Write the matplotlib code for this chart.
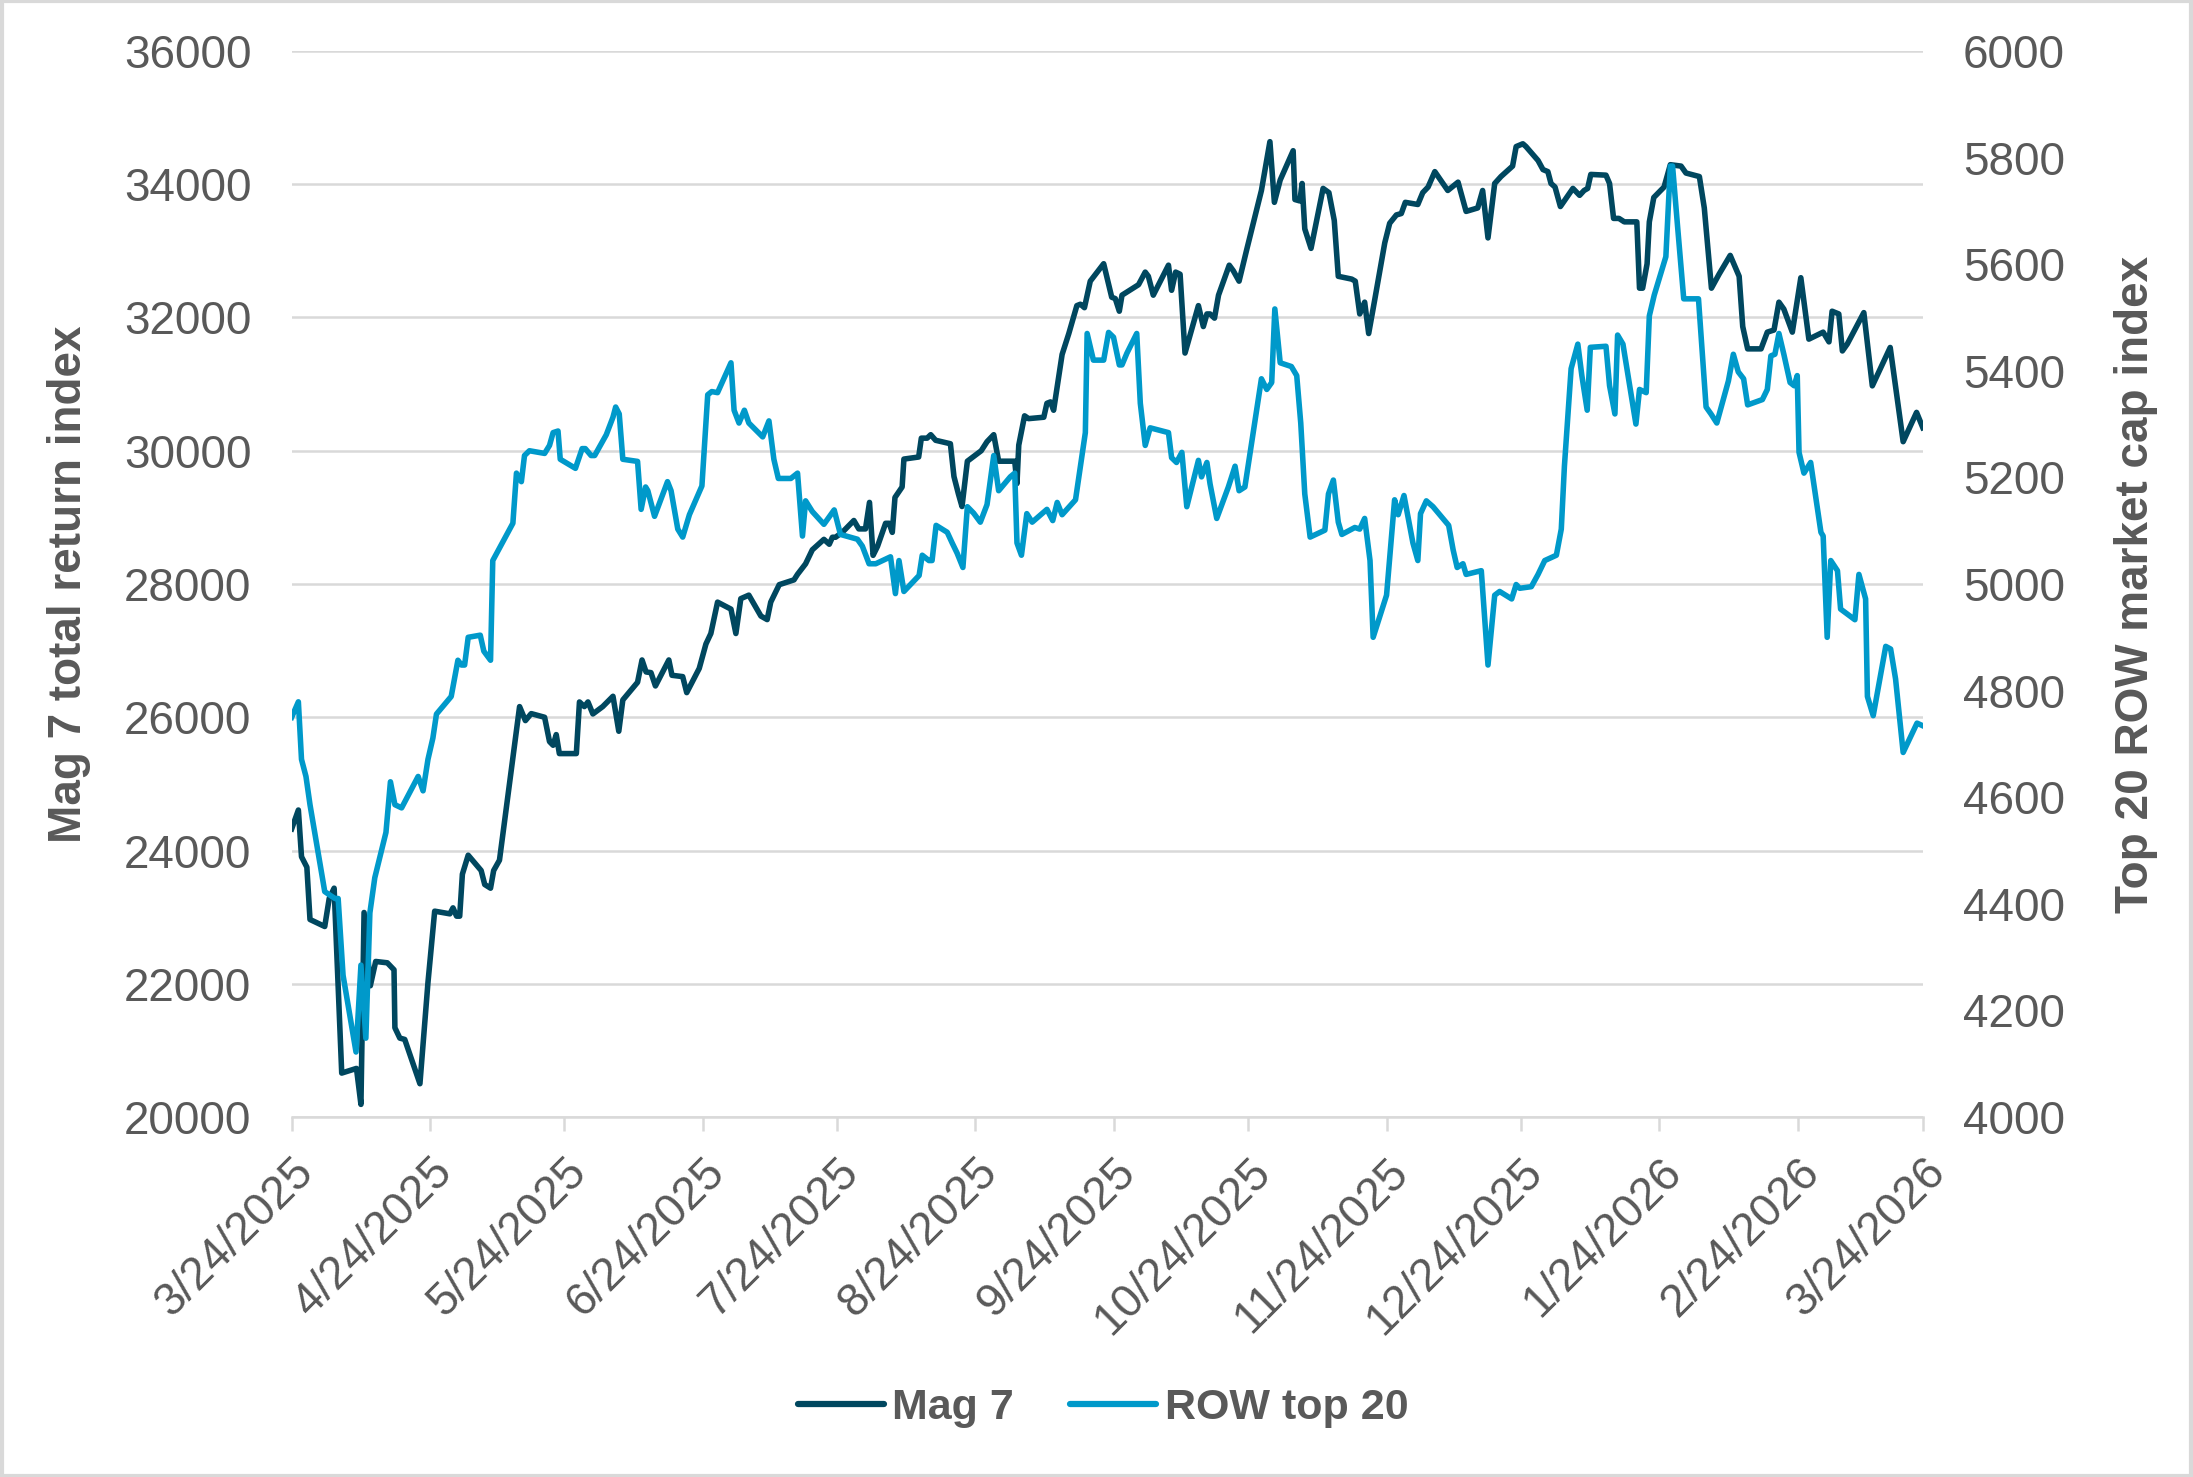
import numpy as np
import pandas as pd
import matplotlib
matplotlib.use("Agg")
import matplotlib.pyplot as plt
from matplotlib.lines import Line2D
from matplotlib.patches import Rectangle

plt.rcParams["font.family"] = ["Liberation Sans", "DejaVu Sans"]

# ---------------------------
# DATA (days since 3/24/2025)
# ---------------------------
START = "2025-03-24"

mag7_days = [
    0, 1.5, 2.2, 3.4, 4.1, 7.4, 8.4, 9.5, 11.2, 14.5, 15.5, 16.2, 17.6, 18.8, 21.4,
    22.9, 23.1, 24.2, 25.3, 28.7, 30.5, 32.0, 35.4, 36.1, 36.9, 37.6, 38.2, 39.5,
    42.4, 43.2, 44.5, 45.2, 46.5, 51.0, 52.3, 53.6, 56.6, 57.7, 58.5, 59.2, 59.9,
    63.7, 64.4, 65.5, 66.3, 67.4, 69.6, 71.9, 73.2, 74.1, 77.4, 78.4, 79.3, 80.4,
    81.4, 84.4, 85.1, 87.5, 88.4,
    91.2, 92.7, 93.8, 95.3, 98.3, 99.4, 100.5, 102.3, 105.0, 106.4, 107.2, 109.1,
    112.4, 113.2, 115.0, 116.5, 119.1, 120.3, 121.0, 121.7, 123.2, 125.8, 126.9,
    128.4, 129.3, 130.1, 131.1, 132.9, 133.7, 134.4, 135.0, 136.6, 137.0, 140.3,
    140.9, 142.2, 143.0, 144.1, 147.4, 148.2, 149.2, 150.0, 151.2, 154.3, 155.6,
    157.1, 158.2, 161.8, 162.3, 162.7, 164.0, 164.9, 168.3, 169.0, 169.8, 170.5,
    172.4, 173.9, 175.7, 176.5, 177.4, 178.7, 181.7, 183.5, 184.3, 185.2,
    185.8, 189.5, 191.0, 191.7, 192.8, 196.2, 196.9, 197.8, 198.8, 199.9, 202.9,
    204.0, 204.8, 205.5, 206.5, 207.4, 209.8, 210.7, 212.0, 213.7, 217.0, 218.9,
    219.9, 221.2, 224.1, 224.5, 225.6, 226.1, 226.7, 228.1, 230.8, 232.1, 233.3,
    234.2, 237.2, 238.0, 239.0, 240.1, 241.0, 242.4, 244.6, 245.7, 247.2, 248.3,
    249.2, 252.0, 253.1, 254.3, 255.8, 258.7, 261.0, 262.8, 265.4, 266.5, 267.7,
    269.2, 270.6, 273.2, 274.0, 275.5, 276.2,
    278.9, 280.0, 281.1, 281.8, 282.7, 283.9, 286.7, 288.2, 289.2, 290.0, 290.7,
    294.1, 294.9, 295.8, 297.0, 298.2, 301.0, 301.6, 302.3, 303.3, 303.8, 304.8,
    307.1, 308.5, 310.9, 312.0, 315.0, 316.1, 317.7, 319.4, 321.9, 323.9, 324.7,
    325.8, 328.8, 330.2, 331.7, 332.8, 333.9, 335.8, 337.7, 339.5, 342.7, 344.0,
    344.7, 346.2, 347.0, 348.1, 351.8, 353.7, 357.7, 359.3, 360.6, 363.6, 365.0,
]
mag7_vals = [
    24325, 24608, 23907, 23750, 22965, 22860, 23280, 23435, 20660, 20730, 20190,
    23070, 21970, 22335, 22315, 22210, 21340, 21185, 21165, 20500, 22020, 23090,
    23050, 23140, 23015, 23015, 23645, 23930, 23700, 23490, 23435, 23700, 23855,
    26160, 25950, 26055, 26000, 25635, 25580, 25740, 25455, 25455, 26230, 26160,
    26230, 26050, 26160, 26315, 25790, 26260, 26525, 26860, 26680, 26670, 26470,
    26860, 26630, 26610, 26370,
    26733, 27100, 27257, 27728, 27623, 27257, 27780, 27833, 27519, 27466, 27728,
    27990, 28062, 28146, 28303, 28513, 28670, 28597, 28702, 28702, 28775, 28953,
    28827, 28827, 29225, 28430, 28566, 28911, 28911, 28775, 29299, 29456, 29875,
    29906, 30189, 30189, 30241, 30157, 30105, 29613, 29351, 29163, 29843, 30000,
    30136, 30241, 29843, 29843, 29508, 30084, 30524, 30482, 30503, 30712, 30733,
    30608, 31445, 31759, 32178, 32199, 32147, 32545, 32807, 32304, 32283, 32094,
    32335, 32492, 32681, 32618, 32335, 32785, 32408, 32681, 32649, 31466, 32178,
    31864, 32053, 32053, 31990, 32335, 32785, 32702, 32545, 33016, 33906, 34639,
    33728, 34063, 34503, 33770, 33749, 34011, 33330, 33037, 33937, 33874, 33456,
    32618, 32576, 32545, 32053, 32230, 31759, 32283, 33120, 33414, 33539, 33560,
    33728, 33696, 33874, 33958, 34189, 33906, 34031, 33592, 33644, 33906, 33194,
    34011, 34115, 34272, 34565, 34607, 34565,
    34356, 34220, 34189, 34011, 33958, 33665, 33937, 33833, 33906, 33937, 34147,
    34136, 34011, 33487, 33487, 33435, 33435, 32440, 32440, 32806, 33435, 33801,
    33958, 34293, 34272, 34168, 34115, 33644, 32440, 32649, 32932, 32618, 31864,
    31529, 31529, 31780, 31812, 32230, 32126, 31780, 32597, 31675, 31780, 31634,
    32094, 32053, 31498, 31602, 32073, 30974, 31550, 30765, 30136, 30576, 30346,
]

row_days = [
    0, 1.5, 2.2, 3.2, 4.1, 7.4, 8.6, 9.7, 10.4, 11.5, 14.4, 15.5, 16.6, 17.5, 18.6,
    21.1, 22.1, 23.1, 24.6, 28.3, 29.4, 30.5, 31.6, 32.4, 35.7, 37.2, 38.0, 38.7,
    39.5, 42.2, 43.0, 44.5, 45.0, 49.5, 50.3, 51.4, 52.1, 53.2, 56.6, 57.7, 58.5,
    59.6, 60.1, 63.5, 65.0, 65.7, 67.0, 67.8, 70.4, 71.9, 72.5, 73.3, 74.1, 77.4,
    78.2, 79.2, 79.7, 81.2, 84.1, 84.9, 86.4, 87.5, 89.0, 91.8, 93.1, 94.0, 95.3,
    98.3, 99.0, 100.1, 101.3, 102.3, 105.4, 106.8, 107.9, 108.9, 111.7, 113.2,
    114.3, 115.0, 116.5, 119.1, 121.4, 122.8, 126.6, 127.7, 129.2, 130.7, 134.0,
    135.1, 135.9, 137.0, 140.4, 141.1, 142.6, 143.3, 144.2, 146.7, 147.8, 148.9,
    150.2, 151.2, 152.6, 154.1, 155.6, 157.1, 158.2, 160.8, 161.8, 162.3, 163.3,
    164.5, 165.7, 169.0, 170.3, 171.3, 172.4, 175.4, 177.6, 178.0, 179.4, 181.7,
    182.8, 183.9, 185.2,
    185.8, 186.9, 189.1, 189.9, 191.0, 192.1, 196.2, 196.9, 198.0, 199.2, 200.3,
    202.9, 203.6, 204.8, 205.5, 207.0, 209.6, 211.1, 212.0, 213.3, 217.0, 218.2,
    219.3, 220.0, 221.2, 223.7, 224.9, 225.8, 226.7, 227.9, 231.2, 232.0, 233.1,
    234.2, 235.0, 237.9, 239.0, 240.1, 241.3, 242.0, 245.0, 246.8, 247.6, 248.9,
    250.9, 252.0, 252.6, 253.9, 255.4, 258.9, 259.9, 260.8, 262.1, 262.8, 266.2,
    267.7, 269.2, 270.3, 273.0, 274.0, 274.8, 277.4,
    278.9, 280.4, 283.0, 284.1, 284.8, 286.3, 287.8, 288.7, 289.9, 290.6, 294.1,
    294.9, 296.1, 296.7, 297.9, 299.4, 300.8, 301.6, 303.1, 303.8, 304.9, 307.5,
    308.5, 309.0, 310.1, 311.5, 314.8, 316.5, 317.6, 318.9, 321.5, 322.6, 323.7,
    324.9, 325.8, 329.1, 330.2, 331.0, 331.9, 332.8, 333.9, 335.3, 336.2, 336.9,
    337.3, 338.4, 339.9, 342.2, 342.7, 343.6, 344.4, 345.9, 346.6, 349.8, 350.7,
    352.2, 352.6, 353.9, 356.7, 357.8, 358.9, 360.6, 363.7, 365.0,
]
row_vals = [
    4750, 4779, 4671, 4639, 4586, 4423, 4416, 4410, 4410, 4266, 4122, 4285, 4148,
    4383, 4449, 4534, 4629, 4586, 4580, 4639, 4612, 4671, 4711, 4756, 4789, 4857,
    4848, 4848, 4900, 4904, 4874, 4857, 5044, 5114, 5208, 5192, 5241, 5250, 5245,
    5260, 5284, 5287, 5234, 5217, 5254, 5254, 5241, 5241, 5280, 5313, 5332, 5319,
    5234, 5230, 5140, 5182, 5175, 5127, 5192, 5175, 5103, 5088, 5130, 5184, 5355,
    5361, 5359,
    5415, 5326, 5302, 5326, 5302, 5276, 5306, 5234, 5198, 5198, 5208, 5090, 5156,
    5136, 5112, 5139, 5093, 5084, 5071, 5038, 5038, 5051, 4982, 5044, 4986, 5016,
    5054, 5044, 5044, 5110, 5097, 5077, 5058, 5031, 5145, 5133, 5116, 5149, 5241,
    5175, 5201, 5208, 5077, 5054, 5132, 5116, 5140, 5119, 5153, 5130, 5158, 5284,
    5470, 5420, 5420, 5472, 5463, 5411,
    5411, 5433, 5470, 5339, 5260, 5293, 5284, 5237, 5228, 5247, 5145, 5232, 5201,
    5228, 5188, 5123, 5182, 5221, 5175, 5182, 5385, 5365, 5378, 5516, 5415, 5408,
    5391, 5302, 5169, 5088, 5101, 5169, 5195, 5116, 5093, 5106, 5103, 5123, 5044,
    4900, 4979, 5158, 5130, 5166, 5077, 5044, 5132, 5156, 5145, 5110, 5064, 5031,
    5038, 5018, 5025, 4848, 4979, 4986, 4972, 4999, 4992, 4995,
    5018, 5044, 5054, 5103, 5221, 5404, 5450, 5391, 5326, 5444, 5446, 5372, 5319,
    5467, 5450, 5372, 5300, 5365, 5359, 5503, 5542, 5614, 5784, 5784, 5673, 5535,
    5535, 5332, 5319, 5302, 5381, 5431, 5398, 5385, 5336, 5346, 5365, 5428, 5431,
    5470, 5431, 5378, 5372, 5391, 5247, 5208, 5228, 5097, 5090, 4900, 5044, 5025,
    4953, 4933, 5018, 4972, 4789, 4753, 4883, 4878, 4822, 4684, 4739, 4734,
]

left_ticks = [20000, 22000, 24000, 26000, 28000, 30000, 32000, 34000, 36000]
right_ticks = [4000, 4200, 4400, 4600, 4800, 5000, 5200, 5400, 5600, 5800, 6000]

DARK = "#00475F"
LIGHT = "#0099CA"
GREY_TXT = "#595959"
GRID = "#D9D9D9"

# ---------------------------
# PLOT
# ---------------------------
start = pd.Timestamp(START)
mag7_x = start + pd.to_timedelta(mag7_days, unit="D")
row_x = start + pd.to_timedelta(row_days, unit="D")
month_ticks = [start + pd.DateOffset(months=i) for i in range(13)]

fig = plt.figure(figsize=(21.93, 14.77), dpi=100)
ax = fig.add_axes([0.133, 0.2437, 0.7438, 0.7218])
ax2 = ax.twinx()

ax.plot(mag7_x, mag7_vals, color=DARK, lw=4, solid_joinstyle="round")
ax2.plot(row_x, row_vals, color=LIGHT, lw=4, solid_joinstyle="round")

ax.set_xlim(month_ticks[0], month_ticks[-1])
ax.set_ylim(20000, 36000)
ax2.set_ylim(4000, 6000)
ax.set_yticks(left_ticks)
ax2.set_yticks(right_ticks)
ax.set_xticks(month_ticks)
ax.set_xticklabels([f"{d.month}/{d.day}/{d.year}" for d in month_ticks],
                   rotation=45, ha="right", rotation_mode="anchor")

ax.grid(axis="y", color=GRID, lw=1.8)
ax.set_axisbelow(True)
for a in (ax, ax2):
    for s in a.spines.values():
        s.set_visible(False)
ax.spines["bottom"].set_visible(True)
ax.spines["bottom"].set_color(GRID)
ax.spines["bottom"].set_linewidth(1.8)

ax.tick_params(axis="y", length=0, pad=29, labelsize=33, labelcolor=GREY_TXT)
ax2.tick_params(axis="y", length=0, pad=29, labelsize=33, labelcolor=GREY_TXT)
ax.tick_params(axis="x", length=10, width=1.8, color=GRID, pad=14,
               labelsize=33, labelcolor=GREY_TXT)

ax.set_ylabel("Mag 7 total return index", fontsize=33, fontweight="bold",
              color=GREY_TXT)
ax2.set_ylabel("Top 20 ROW market cap index", fontsize=33, fontweight="bold",
               color=GREY_TXT, rotation=90)
ax.yaxis.set_label_coords(-0.123, 0.5)
ax2.yaxis.set_label_coords(1.117, 0.5)

handles = [Line2D([], [], color=DARK, lw=4.5, solid_capstyle="round"),
           Line2D([], [], color=LIGHT, lw=4.5, solid_capstyle="round")]
fig.legend(handles, ["Mag 7", "ROW top 20"], loc="center",
           bbox_to_anchor=(0.503, 0.047), ncol=2, frameon=False,
           prop={"size": 31, "weight": "bold"}, labelcolor=GREY_TXT,
           handlelength=2.0, handletextpad=0.2, columnspacing=1.3)

fig.patches.append(Rectangle((0.001, 0.001), 0.998, 0.998, transform=fig.transFigure,
                             fill=False, edgecolor=GRID, lw=3))

fig.savefig("out.png", dpi=100)
